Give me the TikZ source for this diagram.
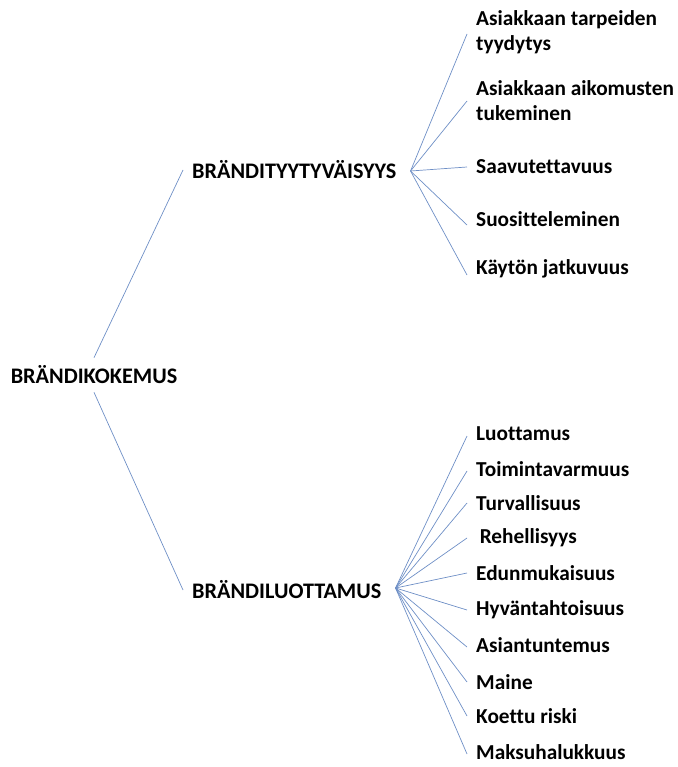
\documentclass[tikz,border=0pt]{standalone}
\usepackage{fontspec}
\setmainfont{Carlito}[Ligatures=NoCommon]
\definecolor{linkblue}{RGB}{110,143,198}
\begin{document}
\begin{tikzpicture}[x=1pt,y=-1pt,
  lbl/.style={font=\bfseries\fontsize{22.2}{25}\selectfont, text=black, inner ysep=2pt},
  head/.style={lbl, inner xsep=9pt, anchor=west},
  leaf/.style={lbl, font=\bfseries\fontsize{21.3}{25}\selectfont, inner xsep=9pt, anchor=west, align=left},
  conn/.style={draw=linkblue, line width=0.7pt}]
\useasboundingbox (0,0) rectangle (677,767);
\node[lbl, inner ysep=8pt] (koke) at (94,375) {BRÄNDIKOKEMUS};
\node[head] (tyy) at (183,170) {BRÄNDITYYTYVÄISYYS};
\node[head] (luo) at (183,590) {BRÄNDILUOTTAMUS};
\draw[conn] (koke.north) -- (tyy.west);
\draw[conn] (koke.south) -- (luo.west);
% satisfaction leaves
\node[leaf] (s1) at (467,32) {Asiakkaan tarpeiden\\tyydytys};
\node[leaf] (s2) at (467,101) {Asiakkaan aikomusten\\tukeminen};
\node[leaf] (s3) at (467,167) {Saavutettavuus};
\node[leaf] (s4) at (467,219) {Suositteleminen};
\node[leaf] (s5) at (467,269) {Käytön jatkuvuus};
\coordinate (th) at ([xshift=5pt,yshift=-1pt]tyy.east);
\foreach \n/\d in {s1/-2,s2/0,s3/0,s4/-6,s5/-6}
  \draw[conn] (th) -- ([yshift=\d]\n.west);
% trust leaves
\node[leaf] (t1) at (467,434) {Luottamus};
\node[leaf] (t2) at (467,469) {Toimintavarmuus};
\node[leaf] (t3) at (467,503) {Turvallisuus};
\node[leaf] (t4) at (467,538) {\,Rehellisyys};
\node[leaf] (t5) at (467,573) {Edunmukaisuus};
\node[leaf] (t6) at (467,610) {Hyväntahtoisuus};
\node[leaf] (t7) at (467,645) {Asiantuntemus};
\node[leaf] (t8) at (467,682) {Maine};
\node[leaf] (t9) at (467,716) {Koettu riski};
\node[leaf] (t10) at (467,752) {Maksuhalukkuus};
\coordinate (lh) at ([xshift=5pt,yshift=2pt]luo.east);
\foreach \n/\d in {t1/-2,t2/-2,t3/0,t4/0,t5/0,t6/0,t7/-2,t8/0,t9/0,t10/-2}
  \draw[conn] (lh) -- ([yshift=\d]\n.west);
\end{tikzpicture}
\end{document}
